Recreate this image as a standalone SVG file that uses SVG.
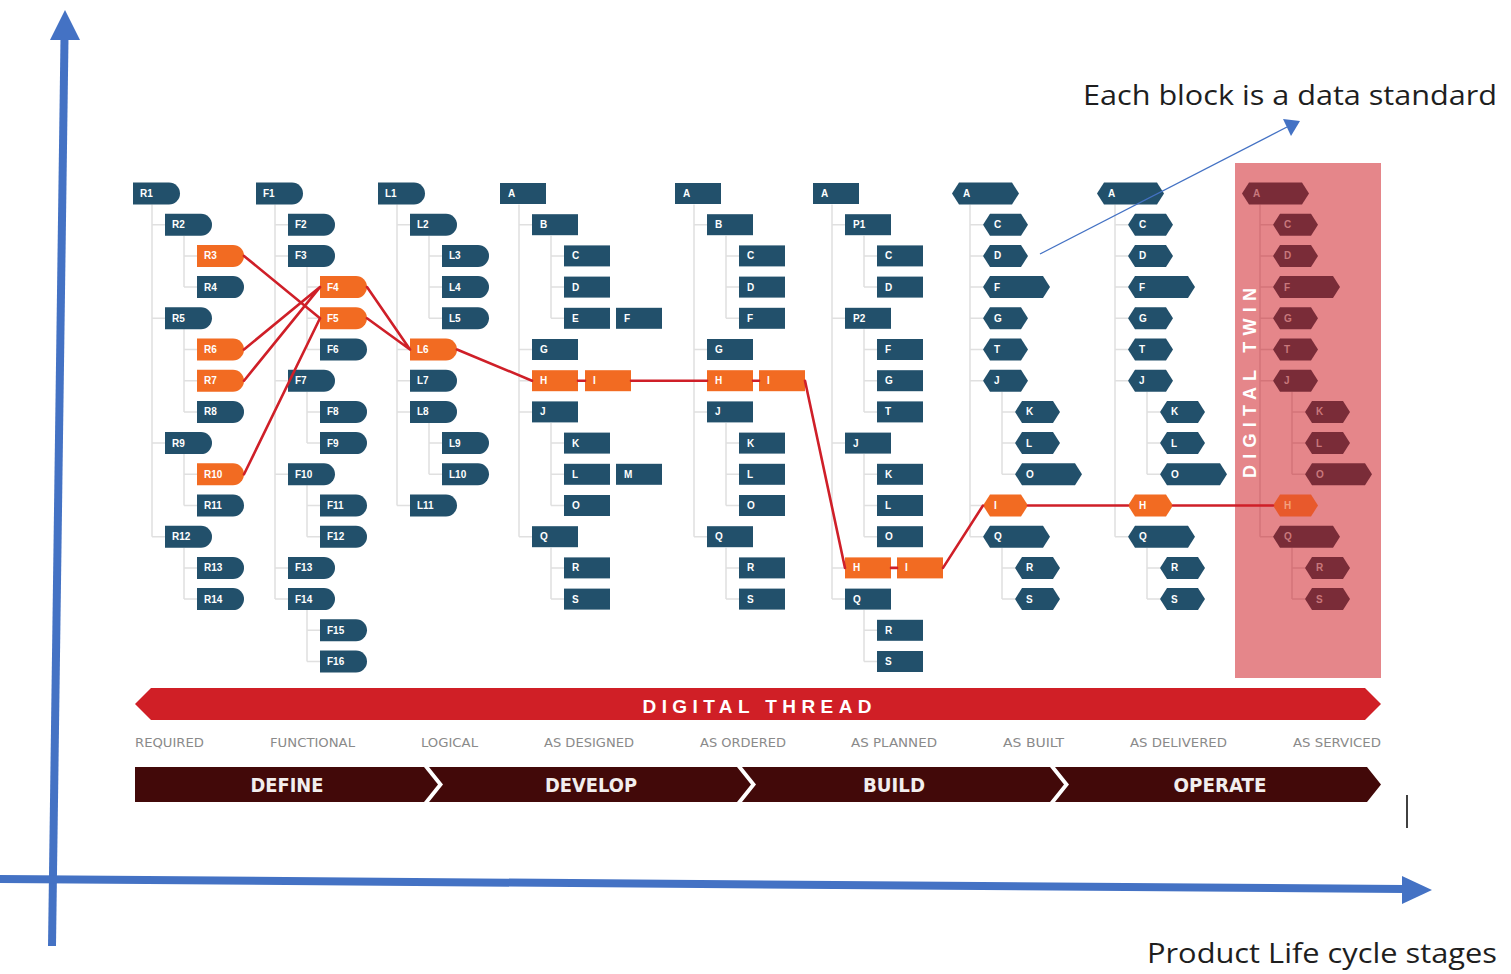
<svg xmlns="http://www.w3.org/2000/svg" xmlns:xlink="http://www.w3.org/1999/xlink" width="1511" height="974" viewBox="0 0 1511 974">
<defs>
  <!-- block shapes, origin at left-middle -->
  <path id="bl" d="M0,-11H36A11,11 0 0 1 36,11H0Z"/>
  <rect id="rc" x="0" y="-10.5" width="46" height="21"/>
  <path id="hx" d="M0,0L7,-11H38L45,0L38,11H7Z"/>
  <path id="hxw" d="M0,0L7,-11H60L67,0L60,11H7Z"/>
</defs>
<style>
  .nd text{font-family:"Liberation Sans",Arial,sans-serif;font-weight:bold;font-size:10px;fill:#ffffff}
  .n use{fill:#22506b}
  .o use{fill:#f26b22}
  .m use{fill:#7a2c38}
  .m text{fill:#c9787c}
  .mo use{fill:#e8592c}
  .mo text{fill:#f3a07e}
  .tree{fill:none;stroke:#e0e0e0;stroke-width:1.5}
  .tree-dt{fill:none;stroke:#d47479;stroke-width:1.5}
  .thread{fill:none;stroke:#cf1f28;stroke-width:2.6;stroke-linecap:round}
  .stage{font-family:"DejaVu Sans Condensed","Liberation Sans",sans-serif;font-size:12px;fill:#8a8a8a}
  .phase{font-family:"DejaVu Sans Condensed","Liberation Sans",sans-serif;font-weight:bold;font-size:20px;fill:#f2eeee;text-anchor:middle}
  .caption{font-family:"Open Sans","Liberation Sans",sans-serif;font-size:27px;fill:#1e1e1e}
  .axis{stroke:#4472c4;stroke-width:8;fill:none}
</style>

<rect width="1511" height="974" fill="#ffffff"/>

<!-- digital twin panel -->
<rect id="twin-panel" x="1235" y="163" width="146" height="515" fill="#e5868a"/>
<text x="0" y="0" transform="translate(1256,383) rotate(-90)" font-family="'Liberation Sans',Arial,sans-serif" font-weight="bold" font-size="18" fill="#ffffff" text-anchor="middle" textLength="190" lengthAdjust="spacing">DIGITAL TWIN</text>

<!-- hierarchy lines -->
<g id="tree-lines">
  <path class="tree" d="M152,204.5V536.7M152,224.7H165M152,318.3H165M152,443.1H165M152,536.7H165M184,235.7V287.1M184,255.9H197M184,287.1H197M184,329.3V411.9M184,349.5H197M184,380.7H197M184,411.9H197M184,454.1V505.5M184,474.3H197M184,505.5H197M184,547.7V599.1M184,567.9H197M184,599.1H197"/>
  <path class="tree" d="M275,204.5V599.1M275,224.7H288M275,255.9H288M275,380.7H288M275,474.3H288M275,567.9H288M275,599.1H288M307,266.9V349.5M307,287.1H320M307,318.3H320M307,349.5H320M307,391.7V443.1M307,411.9H320M307,443.1H320M307,485.3V536.7M307,505.5H320M307,536.7H320M307,610.1V661.5M307,630.3H320M307,661.5H320"/>
  <path class="tree" d="M397,204.5V505.5M397,224.7H410M397,349.5H410M397,380.7H410M397,411.9H410M397,505.5H410M429,235.7V318.3M429,255.9H442M429,287.1H442M429,318.3H442M429,422.9V474.3M429,443.1H442M429,474.3H442"/>
  <path class="tree" d="M519,204.5V536.7M519,224.7H532M519,349.5H532M519,380.7H532M519,411.9H532M519,536.7H532M551,235.7V318.3M551,255.9H564M551,287.1H564M551,318.3H564M551,422.9V505.5M551,443.1H564M551,474.3H564M551,505.5H564M551,547.7V599.1M551,567.9H564M551,599.1H564"/>
  <path class="tree" d="M694,204.5V536.7M694,224.7H707M694,349.5H707M694,380.7H707M694,411.9H707M694,536.7H707M726,235.7V318.3M726,255.9H739M726,287.1H739M726,318.3H739M726,422.9V505.5M726,443.1H739M726,474.3H739M726,505.5H739M726,547.7V599.1M726,567.9H739M726,599.1H739"/>
  <path class="tree" d="M832,204.5V599.1M832,224.7H845M832,318.3H845M832,443.1H845M832,567.9H845M832,599.1H845M864,235.7V287.1M864,255.9H877M864,287.1H877M864,329.3V411.9M864,349.5H877M864,380.7H877M864,411.9H877M864,454.1V536.7M864,474.3H877M864,505.5H877M864,536.7H877M864,610.1V661.5M864,630.3H877M864,661.5H877"/>
  <path class="tree" d="M970,204.5V536.7M970,224.7H983M970,255.9H983M970,287.1H983M970,318.3H983M970,349.5H983M970,380.7H983M970,505.5H983M970,536.7H983M1002,391.7V474.3M1002,411.9H1015M1002,443.1H1015M1002,474.3H1015M1002,547.7V599.1M1002,567.9H1015M1002,599.1H1015"/>
  <path class="tree" d="M1115,204.5V536.7M1115,224.7H1128M1115,255.9H1128M1115,287.1H1128M1115,318.3H1128M1115,349.5H1128M1115,380.7H1128M1115,505.5H1128M1115,536.7H1128M1147,391.7V474.3M1147,411.9H1160M1147,443.1H1160M1147,474.3H1160M1147,547.7V599.1M1147,567.9H1160M1147,599.1H1160"/>
  <path class="tree-dt" d="M1260,204.5V536.7M1260,224.7H1273M1260,255.9H1273M1260,287.1H1273M1260,318.3H1273M1260,349.5H1273M1260,380.7H1273M1260,505.5H1273M1260,536.7H1273M1292,391.7V474.3M1292,411.9H1305M1292,443.1H1305M1292,474.3H1305M1292,547.7V599.1M1292,567.9H1305M1292,599.1H1305"/>
</g>

<!-- REQUIRED -->
<g id="required" class="nd">
  <g id="req-R1" class="n"><use href="#bl" x="133" y="193.5"/><text x="140" y="197">R1</text></g>
  <g id="req-R2" class="n"><use href="#bl" x="165" y="224.7"/><text x="172" y="228.2">R2</text></g>
  <g id="req-R3" class="o"><use href="#bl" x="197" y="255.9"/><text x="204" y="259.4">R3</text></g>
  <g id="req-R4" class="n"><use href="#bl" x="197" y="287.1"/><text x="204" y="290.6">R4</text></g>
  <g id="req-R5" class="n"><use href="#bl" x="165" y="318.3"/><text x="172" y="321.8">R5</text></g>
  <g id="req-R6" class="o"><use href="#bl" x="197" y="349.5"/><text x="204" y="353">R6</text></g>
  <g id="req-R7" class="o"><use href="#bl" x="197" y="380.7"/><text x="204" y="384.2">R7</text></g>
  <g id="req-R8" class="n"><use href="#bl" x="197" y="411.9"/><text x="204" y="415.4">R8</text></g>
  <g id="req-R9" class="n"><use href="#bl" x="165" y="443.1"/><text x="172" y="446.6">R9</text></g>
  <g id="req-R10" class="o"><use href="#bl" x="197" y="474.3"/><text x="204" y="477.8">R10</text></g>
  <g id="req-R11" class="n"><use href="#bl" x="197" y="505.5"/><text x="204" y="509">R11</text></g>
  <g id="req-R12" class="n"><use href="#bl" x="165" y="536.7"/><text x="172" y="540.2">R12</text></g>
  <g id="req-R13" class="n"><use href="#bl" x="197" y="567.9"/><text x="204" y="571.4">R13</text></g>
  <g id="req-R14" class="n"><use href="#bl" x="197" y="599.1"/><text x="204" y="602.6">R14</text></g>
</g>

<!-- FUNCTIONAL -->
<g id="functional" class="nd">
  <g id="fun-F1" class="n"><use href="#bl" x="256" y="193.5"/><text x="263" y="197">F1</text></g>
  <g id="fun-F2" class="n"><use href="#bl" x="288" y="224.7"/><text x="295" y="228.2">F2</text></g>
  <g id="fun-F3" class="n"><use href="#bl" x="288" y="255.9"/><text x="295" y="259.4">F3</text></g>
  <g id="fun-F4" class="o"><use href="#bl" x="320" y="287.1"/><text x="327" y="290.6">F4</text></g>
  <g id="fun-F5" class="o"><use href="#bl" x="320" y="318.3"/><text x="327" y="321.8">F5</text></g>
  <g id="fun-F6" class="n"><use href="#bl" x="320" y="349.5"/><text x="327" y="353">F6</text></g>
  <g id="fun-F7" class="n"><use href="#bl" x="288" y="380.7"/><text x="295" y="384.2">F7</text></g>
  <g id="fun-F8" class="n"><use href="#bl" x="320" y="411.9"/><text x="327" y="415.4">F8</text></g>
  <g id="fun-F9" class="n"><use href="#bl" x="320" y="443.1"/><text x="327" y="446.6">F9</text></g>
  <g id="fun-F10" class="n"><use href="#bl" x="288" y="474.3"/><text x="295" y="477.8">F10</text></g>
  <g id="fun-F11" class="n"><use href="#bl" x="320" y="505.5"/><text x="327" y="509">F11</text></g>
  <g id="fun-F12" class="n"><use href="#bl" x="320" y="536.7"/><text x="327" y="540.2">F12</text></g>
  <g id="fun-F13" class="n"><use href="#bl" x="288" y="567.9"/><text x="295" y="571.4">F13</text></g>
  <g id="fun-F14" class="n"><use href="#bl" x="288" y="599.1"/><text x="295" y="602.6">F14</text></g>
  <g id="fun-F15" class="n"><use href="#bl" x="320" y="630.3"/><text x="327" y="633.8">F15</text></g>
  <g id="fun-F16" class="n"><use href="#bl" x="320" y="661.5"/><text x="327" y="665">F16</text></g>
</g>

<!-- LOGICAL -->
<g id="logical" class="nd">
  <g id="log-L1" class="n"><use href="#bl" x="378" y="193.5"/><text x="385" y="197">L1</text></g>
  <g id="log-L2" class="n"><use href="#bl" x="410" y="224.7"/><text x="417" y="228.2">L2</text></g>
  <g id="log-L3" class="n"><use href="#bl" x="442" y="255.9"/><text x="449" y="259.4">L3</text></g>
  <g id="log-L4" class="n"><use href="#bl" x="442" y="287.1"/><text x="449" y="290.6">L4</text></g>
  <g id="log-L5" class="n"><use href="#bl" x="442" y="318.3"/><text x="449" y="321.8">L5</text></g>
  <g id="log-L6" class="o"><use href="#bl" x="410" y="349.5"/><text x="417" y="353">L6</text></g>
  <g id="log-L7" class="n"><use href="#bl" x="410" y="380.7"/><text x="417" y="384.2">L7</text></g>
  <g id="log-L8" class="n"><use href="#bl" x="410" y="411.9"/><text x="417" y="415.4">L8</text></g>
  <g id="log-L9" class="n"><use href="#bl" x="442" y="443.1"/><text x="449" y="446.6">L9</text></g>
  <g id="log-L10" class="n"><use href="#bl" x="442" y="474.3"/><text x="449" y="477.8">L10</text></g>
  <g id="log-L11" class="n"><use href="#bl" x="410" y="505.5"/><text x="417" y="509">L11</text></g>
</g>

<!-- AS DESIGNED -->
<g id="as-designed" class="nd">
  <g id="des-A" class="n"><use href="#rc" x="500" y="193.5"/><text x="508" y="197">A</text></g>
  <g id="des-B" class="n"><use href="#rc" x="532" y="224.7"/><text x="540" y="228.2">B</text></g>
  <g id="des-C" class="n"><use href="#rc" x="564" y="255.9"/><text x="572" y="259.4">C</text></g>
  <g id="des-D" class="n"><use href="#rc" x="564" y="287.1"/><text x="572" y="290.6">D</text></g>
  <g id="des-E" class="n"><use href="#rc" x="564" y="318.3"/><text x="572" y="321.8">E</text></g>
  <g id="des-F" class="n"><use href="#rc" x="616" y="318.3"/><text x="624" y="321.8">F</text></g>
  <g id="des-G" class="n"><use href="#rc" x="532" y="349.5"/><text x="540" y="353">G</text></g>
  <g id="des-H" class="o"><use href="#rc" x="532" y="380.7"/><text x="540" y="384.2">H</text></g>
  <g id="des-I" class="o"><use href="#rc" x="585" y="380.7"/><text x="593" y="384.2">I</text></g>
  <g id="des-J" class="n"><use href="#rc" x="532" y="411.9"/><text x="540" y="415.4">J</text></g>
  <g id="des-K" class="n"><use href="#rc" x="564" y="443.1"/><text x="572" y="446.6">K</text></g>
  <g id="des-L" class="n"><use href="#rc" x="564" y="474.3"/><text x="572" y="477.8">L</text></g>
  <g id="des-M" class="n"><use href="#rc" x="616" y="474.3"/><text x="624" y="477.8">M</text></g>
  <g id="des-O" class="n"><use href="#rc" x="564" y="505.5"/><text x="572" y="509">O</text></g>
  <g id="des-Q" class="n"><use href="#rc" x="532" y="536.7"/><text x="540" y="540.2">Q</text></g>
  <g id="des-R" class="n"><use href="#rc" x="564" y="567.9"/><text x="572" y="571.4">R</text></g>
  <g id="des-S" class="n"><use href="#rc" x="564" y="599.1"/><text x="572" y="602.6">S</text></g>
</g>

<!-- AS ORDERED -->
<g id="as-ordered" class="nd">
  <g id="ord-A" class="n"><use href="#rc" x="675" y="193.5"/><text x="683" y="197">A</text></g>
  <g id="ord-B" class="n"><use href="#rc" x="707" y="224.7"/><text x="715" y="228.2">B</text></g>
  <g id="ord-C" class="n"><use href="#rc" x="739" y="255.9"/><text x="747" y="259.4">C</text></g>
  <g id="ord-D" class="n"><use href="#rc" x="739" y="287.1"/><text x="747" y="290.6">D</text></g>
  <g id="ord-F" class="n"><use href="#rc" x="739" y="318.3"/><text x="747" y="321.8">F</text></g>
  <g id="ord-G" class="n"><use href="#rc" x="707" y="349.5"/><text x="715" y="353">G</text></g>
  <g id="ord-H" class="o"><use href="#rc" x="707" y="380.7"/><text x="715" y="384.2">H</text></g>
  <g id="ord-I" class="o"><use href="#rc" x="759" y="380.7"/><text x="767" y="384.2">I</text></g>
  <g id="ord-J" class="n"><use href="#rc" x="707" y="411.9"/><text x="715" y="415.4">J</text></g>
  <g id="ord-K" class="n"><use href="#rc" x="739" y="443.1"/><text x="747" y="446.6">K</text></g>
  <g id="ord-L" class="n"><use href="#rc" x="739" y="474.3"/><text x="747" y="477.8">L</text></g>
  <g id="ord-O" class="n"><use href="#rc" x="739" y="505.5"/><text x="747" y="509">O</text></g>
  <g id="ord-Q" class="n"><use href="#rc" x="707" y="536.7"/><text x="715" y="540.2">Q</text></g>
  <g id="ord-R" class="n"><use href="#rc" x="739" y="567.9"/><text x="747" y="571.4">R</text></g>
  <g id="ord-S" class="n"><use href="#rc" x="739" y="599.1"/><text x="747" y="602.6">S</text></g>
</g>

<!-- AS PLANNED -->
<g id="as-planned" class="nd">
  <g id="pla-A" class="n"><use href="#rc" x="813" y="193.5"/><text x="821" y="197">A</text></g>
  <g id="pla-P1" class="n"><use href="#rc" x="845" y="224.7"/><text x="853" y="228.2">P1</text></g>
  <g id="pla-C" class="n"><use href="#rc" x="877" y="255.9"/><text x="885" y="259.4">C</text></g>
  <g id="pla-D" class="n"><use href="#rc" x="877" y="287.1"/><text x="885" y="290.6">D</text></g>
  <g id="pla-P2" class="n"><use href="#rc" x="845" y="318.3"/><text x="853" y="321.8">P2</text></g>
  <g id="pla-F" class="n"><use href="#rc" x="877" y="349.5"/><text x="885" y="353">F</text></g>
  <g id="pla-G" class="n"><use href="#rc" x="877" y="380.7"/><text x="885" y="384.2">G</text></g>
  <g id="pla-T" class="n"><use href="#rc" x="877" y="411.9"/><text x="885" y="415.4">T</text></g>
  <g id="pla-J" class="n"><use href="#rc" x="845" y="443.1"/><text x="853" y="446.6">J</text></g>
  <g id="pla-K" class="n"><use href="#rc" x="877" y="474.3"/><text x="885" y="477.8">K</text></g>
  <g id="pla-L" class="n"><use href="#rc" x="877" y="505.5"/><text x="885" y="509">L</text></g>
  <g id="pla-O" class="n"><use href="#rc" x="877" y="536.7"/><text x="885" y="540.2">O</text></g>
  <g id="pla-H" class="o"><use href="#rc" x="845" y="567.9"/><text x="853" y="571.4">H</text></g>
  <g id="pla-I" class="o"><use href="#rc" x="897" y="567.9"/><text x="905" y="571.4">I</text></g>
  <g id="pla-Q" class="n"><use href="#rc" x="845" y="599.1"/><text x="853" y="602.6">Q</text></g>
  <g id="pla-R" class="n"><use href="#rc" x="877" y="630.3"/><text x="885" y="633.8">R</text></g>
  <g id="pla-S" class="n"><use href="#rc" x="877" y="661.5"/><text x="885" y="665">S</text></g>
</g>

<!-- AS BUILT -->
<g id="as-built" class="nd">
  <g id="bui-A" class="n"><use href="#hxw" x="952" y="193.5"/><text x="963" y="197">A</text></g>
  <g id="bui-C" class="n"><use href="#hx" x="983" y="224.7"/><text x="994" y="228.2">C</text></g>
  <g id="bui-D" class="n"><use href="#hx" x="983" y="255.9"/><text x="994" y="259.4">D</text></g>
  <g id="bui-F" class="n"><use href="#hxw" x="983" y="287.1"/><text x="994" y="290.6">F</text></g>
  <g id="bui-G" class="n"><use href="#hx" x="983" y="318.3"/><text x="994" y="321.8">G</text></g>
  <g id="bui-T" class="n"><use href="#hx" x="983" y="349.5"/><text x="994" y="353">T</text></g>
  <g id="bui-J" class="n"><use href="#hx" x="983" y="380.7"/><text x="994" y="384.2">J</text></g>
  <g id="bui-K" class="n"><use href="#hx" x="1015" y="411.9"/><text x="1026" y="415.4">K</text></g>
  <g id="bui-L" class="n"><use href="#hx" x="1015" y="443.1"/><text x="1026" y="446.6">L</text></g>
  <g id="bui-O" class="n"><use href="#hxw" x="1015" y="474.3"/><text x="1026" y="477.8">O</text></g>
  <g id="bui-I" class="o"><use href="#hx" x="983" y="505.5"/><text x="994" y="509">I</text></g>
  <g id="bui-Q" class="n"><use href="#hxw" x="983" y="536.7"/><text x="994" y="540.2">Q</text></g>
  <g id="bui-R" class="n"><use href="#hx" x="1015" y="567.9"/><text x="1026" y="571.4">R</text></g>
  <g id="bui-S" class="n"><use href="#hx" x="1015" y="599.1"/><text x="1026" y="602.6">S</text></g>
</g>

<!-- AS DELIVERED -->
<g id="as-delivered" class="nd">
  <g id="del-A" class="n"><use href="#hxw" x="1097" y="193.5"/><text x="1108" y="197">A</text></g>
  <g id="del-C" class="n"><use href="#hx" x="1128" y="224.7"/><text x="1139" y="228.2">C</text></g>
  <g id="del-D" class="n"><use href="#hx" x="1128" y="255.9"/><text x="1139" y="259.4">D</text></g>
  <g id="del-F" class="n"><use href="#hxw" x="1128" y="287.1"/><text x="1139" y="290.6">F</text></g>
  <g id="del-G" class="n"><use href="#hx" x="1128" y="318.3"/><text x="1139" y="321.8">G</text></g>
  <g id="del-T" class="n"><use href="#hx" x="1128" y="349.5"/><text x="1139" y="353">T</text></g>
  <g id="del-J" class="n"><use href="#hx" x="1128" y="380.7"/><text x="1139" y="384.2">J</text></g>
  <g id="del-K" class="n"><use href="#hx" x="1160" y="411.9"/><text x="1171" y="415.4">K</text></g>
  <g id="del-L" class="n"><use href="#hx" x="1160" y="443.1"/><text x="1171" y="446.6">L</text></g>
  <g id="del-O" class="n"><use href="#hxw" x="1160" y="474.3"/><text x="1171" y="477.8">O</text></g>
  <g id="del-H" class="o"><use href="#hx" x="1128" y="505.5"/><text x="1139" y="509">H</text></g>
  <g id="del-Q" class="n"><use href="#hxw" x="1128" y="536.7"/><text x="1139" y="540.2">Q</text></g>
  <g id="del-R" class="n"><use href="#hx" x="1160" y="567.9"/><text x="1171" y="571.4">R</text></g>
  <g id="del-S" class="n"><use href="#hx" x="1160" y="599.1"/><text x="1171" y="602.6">S</text></g>
</g>

<!-- AS SERVICED (digital twin) -->
<g id="as-serviced" class="nd">
  <g id="ser-A" class="m"><use href="#hxw" x="1242" y="193.5"/><text x="1253" y="197">A</text></g>
  <g id="ser-C" class="m"><use href="#hx" x="1273" y="224.7"/><text x="1284" y="228.2">C</text></g>
  <g id="ser-D" class="m"><use href="#hx" x="1273" y="255.9"/><text x="1284" y="259.4">D</text></g>
  <g id="ser-F" class="m"><use href="#hxw" x="1273" y="287.1"/><text x="1284" y="290.6">F</text></g>
  <g id="ser-G" class="m"><use href="#hx" x="1273" y="318.3"/><text x="1284" y="321.8">G</text></g>
  <g id="ser-T" class="m"><use href="#hx" x="1273" y="349.5"/><text x="1284" y="353">T</text></g>
  <g id="ser-J" class="m"><use href="#hx" x="1273" y="380.7"/><text x="1284" y="384.2">J</text></g>
  <g id="ser-K" class="m"><use href="#hx" x="1305" y="411.9"/><text x="1316" y="415.4">K</text></g>
  <g id="ser-L" class="m"><use href="#hx" x="1305" y="443.1"/><text x="1316" y="446.6">L</text></g>
  <g id="ser-O" class="m"><use href="#hxw" x="1305" y="474.3"/><text x="1316" y="477.8">O</text></g>
  <g id="ser-H" class="mo"><use href="#hx" x="1273" y="505.5"/><text x="1284" y="509">H</text></g>
  <g id="ser-Q" class="m"><use href="#hxw" x="1273" y="536.7"/><text x="1284" y="540.2">Q</text></g>
  <g id="ser-R" class="m"><use href="#hx" x="1305" y="567.9"/><text x="1316" y="571.4">R</text></g>
  <g id="ser-S" class="m"><use href="#hx" x="1305" y="599.1"/><text x="1316" y="602.6">S</text></g>
</g>

<!-- thread links between matching blocks -->
<g id="connectors">
  <path class="thread" d="M244,255.9L320,318.3M244,349.5L320,287.1M244,380.7L320,287.1M244,474.3L320,318.3"/>
  <path class="thread" d="M367,287.1L410,349.5M367,318.3L410,349.5M457,349.5L532,380.7"/>
  <path class="thread" d="M578,380.7H585M631,380.7H707M753,380.7H759M805,380.7L845,567.9M891,567.9H897M943,567.9L983,505.5M1028,505.5H1128M1173,505.5H1273"/>
  <!-- annotation pointer -->
  <path d="M1040,254L1287,127" stroke="#4472c4" stroke-width="1.4" fill="none"/>
  <polygon points="1300,121 1283,119 1291,136" fill="#4472c4"/>
</g>

<!-- digital thread banner -->
<g id="digital-thread">
  <path d="M135,704L151,688H1365L1381,704L1365,720H151Z" fill="#d01f26"/>
  <text x="757" y="713" text-anchor="middle" font-family="'Liberation Sans',Arial,sans-serif" font-weight="bold" font-size="19" fill="#ffffff" textLength="229" lengthAdjust="spacing">DIGITAL THREAD</text>
</g>

<!-- stage labels -->
<g id="stages">
  <text class="stage" x="135" y="747" textLength="69" lengthAdjust="spacingAndGlyphs">REQUIRED</text>
  <text class="stage" x="270" y="747" textLength="85" lengthAdjust="spacingAndGlyphs">FUNCTIONAL</text>
  <text class="stage" x="421" y="747" textLength="57" lengthAdjust="spacingAndGlyphs">LOGICAL</text>
  <text class="stage" x="544" y="747" textLength="90" lengthAdjust="spacingAndGlyphs">AS DESIGNED</text>
  <text class="stage" x="700" y="747" textLength="86" lengthAdjust="spacingAndGlyphs">AS ORDERED</text>
  <text class="stage" x="851" y="747" textLength="86" lengthAdjust="spacingAndGlyphs">AS PLANNED</text>
  <text class="stage" x="1003" y="747" textLength="61" lengthAdjust="spacingAndGlyphs">AS BUILT</text>
  <text class="stage" x="1130" y="747" textLength="97" lengthAdjust="spacingAndGlyphs">AS DELIVERED</text>
  <text class="stage" x="1293" y="747" textLength="88" lengthAdjust="spacingAndGlyphs">AS SERVICED</text>
</g>

<!-- lifecycle phases -->
<g id="phases">
  <path d="M135,767H424L438,784.5L424,802H135Z" fill="#420909"/>
  <path d="M429,767H737L751,784.5L737,802H429L443,784.5Z" fill="#420909"/>
  <path d="M742,767H1050L1064,784.5L1050,802H742L756,784.5Z" fill="#420909"/>
  <path d="M1055,767H1367L1381,784.5L1367,802H1055L1069,784.5Z" fill="#420909"/>
  <text class="phase" x="287" y="792" textLength="73" lengthAdjust="spacingAndGlyphs">DEFINE</text>
  <text class="phase" x="591" y="792" textLength="92" lengthAdjust="spacingAndGlyphs">DEVELOP</text>
  <text class="phase" x="894" y="792" textLength="62" lengthAdjust="spacingAndGlyphs">BUILD</text>
  <text class="phase" x="1220" y="792" textLength="93" lengthAdjust="spacingAndGlyphs">OPERATE</text>
</g>

<!-- axes -->
<g id="axes">
  <line class="axis" x1="52" y1="946" x2="64.5" y2="38"/>
  <polygon points="65,10 50,40 80,40" fill="#4472c4"/>
  <line class="axis" x1="0" y1="879" x2="1404" y2="889"/>
  <polygon points="1432,890 1402,876 1402,904" fill="#4472c4"/>
</g>

<line x1="1407" y1="795" x2="1407" y2="828" stroke="#111111" stroke-width="1.6"/>

<text class="caption" x="1083" y="105" textLength="414" lengthAdjust="spacingAndGlyphs">Each block is a data standard</text>
<text class="caption" x="1147" y="963" textLength="350" lengthAdjust="spacingAndGlyphs">Product Life cycle stages</text>
</svg>
